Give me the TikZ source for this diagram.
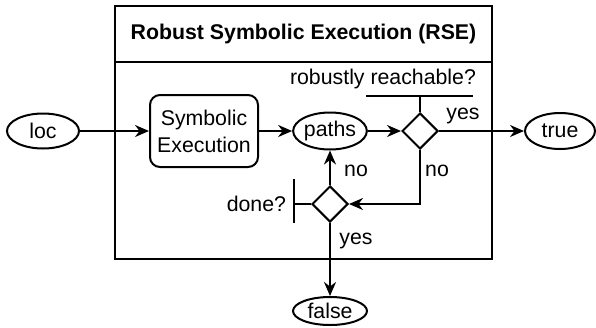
\documentclass[tikz,border=0pt]{standalone}
\usepackage{fontspec}
\setmainfont{Liberation Sans}
\usetikzlibrary{shapes.geometric,arrows.meta}

\begin{document}
\begin{tikzpicture}[x=1pt,y=-1pt,line width=2pt,
  every node/.style={font=\fontsize{21.3}{27}\selectfont},
  term/.style={draw,ellipse,inner sep=0pt,minimum width=72pt,minimum height=35pt},
  proc/.style={draw,rounded corners=10pt,inner sep=0pt,minimum width=108pt,minimum height=72pt,align=center},
  decide/.style={draw,diamond,inner sep=0pt,minimum width=36pt,minimum height=36pt},
  frame/.style={draw,inner sep=0pt,anchor=north west,minimum width=377pt},
  flow/.style={-{Stealth[length=14pt,width=12pt,inset=4.5pt]}},
  lbl/.style={anchor=base,inner sep=0pt}
]
\useasboundingbox (0,0) rectangle (596,327);

% container with its title bar
\node[frame,minimum height=56pt,font=\fontsize{21.3}{27}\selectfont\bfseries] (title) at (114,5) {Robust Symbolic Execution (RSE)};
\node[frame,minimum height=197pt] (body) at (114,61) {};

% nodes
\node[term] (loc) at (43,131) {loc};
\node[proc] (se) at (204,131) {Symbolic\\Execution};
\node[term,minimum width=73pt,minimum height=37pt] (paths) at (330,131) {paths};
\node[decide] (d1) at (420,131) {};
\node[term,minimum width=70pt,minimum height=36pt] (true) at (560,131) {true};
\node[decide] (d2) at (330,204) {};
\node[term,minimum width=74pt,minimum height=28pt] (false) at (330,311) {false};

% connectors
\draw[flow] (loc) -- (se);
\draw[flow] (se) -- (paths);
\draw[flow] (paths) -- (d1);
\draw[flow] (d1) -- (true);
\draw[flow] (d1.south) |- (d2.east);
\draw[flow] (d2.north) -- (paths.south);
\draw[flow] (d2.south) -- (false.north);

% branch labels
\node[lbl] (yes1) at (463,119) {yes};
\node[lbl] (no1) at (437,176) {no};
\node[lbl] (no2) at (356,176) {no};
\node[lbl] (yes2) at (356,244) {yes};

% annotation for the reachability test
\coordinate (rrL) at (366,96);
\coordinate (rrR) at (473,96);
\draw (d1.north) -- (d1.north |- rrL);
\draw (rrL) -- (rrR);
\node[lbl] (rrtext) at (383,84) {robustly reachable?};

% annotation for the termination test
\coordinate (dtT) at (294,179);
\coordinate (dtB) at (294,223);
\draw (d2.west) -- (d2.west -| dtT);
\draw (dtT) -- (dtB);
\node[anchor=base east,inner sep=0pt] (donetext) at (287,211) {done?};
\end{tikzpicture}
\end{document}
